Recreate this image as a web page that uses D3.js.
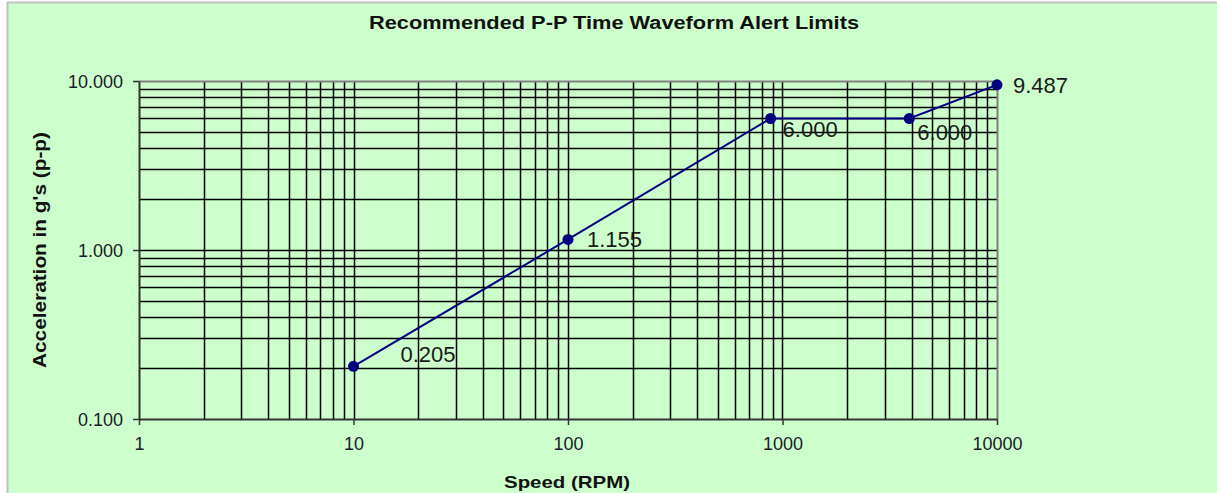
<!DOCTYPE html>
<html>
<head>
<meta charset="utf-8">
<script src="https://cdn.jsdelivr.net/npm/d3@7/dist/d3.min.js"></script>
<style>
  body { margin: 0; background: #fff; }
  svg { display: block; font-family: "Liberation Sans", Arial, sans-serif; }
</style>
</head>
<body>
<div id="chart"></div>
<script>
// chart data
const speeds = [10, 100, 880, 3900, 10000];
const accel = [0.205, 1.155, 6.0, 6.0, 9.487];
const xTicks = [1, 10, 100, 1000, 10000];
const yTicks = [0.1, 1, 10];

// label offsets (style only) for each data label, in px
const labelDx = [47, 19, 12, 8, 16];
const labelDy = [-12, 0, 11, 14, 0];

const W = 1217, H = 493;
const margin = {top: 81, left: 139, right: 220, bottom: 74};
const width = W - margin.left - margin.right,   // 858
      height = H - margin.top - margin.bottom;  // 338

const svg = d3.select('#chart').append('svg')
    .attr('width', W)
    .attr('height', H);

// chart area background + frame
svg.append('rect')
    .attr('x', 7.5).attr('y', 2.5)
    .attr('width', W).attr('height', H)
    .attr('fill', '#ccffcc')
    .attr('stroke', '#c0c0c0')
    .attr('stroke-width', 2);

const g = svg.append('g')
    .attr('transform', 'translate(' + margin.left + ',' + margin.top + ')');

const x = d3.scaleLog().domain([1, 10000]).range([0, width]);
const y = d3.scaleLog().domain([0.1, 10]).range([height, 0]);

// minor grid values: 1..9 in every decade
const xGrid = [];
for (let d = 1; d < 10000; d *= 10) for (let k = 1; k <= 9; k++) xGrid.push(d * k);
const yGrid = [];
for (let d = 0.1; d < 9.9; d *= 10) for (let k = 1; k <= 9; k++) yGrid.push(d * k);

g.selectAll('.vgrid').data(xGrid.filter(v => v > 1))
  .enter().append('line')
    .attr('x1', d => Math.round(x(d)) + 0.5).attr('x2', d => Math.round(x(d)) + 0.5)
    .attr('y1', 0).attr('y2', height)
    .attr('stroke', '#000').attr('stroke-width', 1.5);

g.selectAll('.hgrid').data(yGrid.filter(v => v > 0.1001))
  .enter().append('line')
    .attr('y1', d => Math.round(y(d)) + 0.5).attr('y2', d => Math.round(y(d)) + 0.5)
    .attr('x1', 0).attr('x2', width)
    .attr('stroke', '#000').attr('stroke-width', 1.5);

// plot border (top / right)
g.append('path')
    .attr('d', 'M0,0.5H' + (width + 0.5) + 'V' + height)
    .attr('fill', 'none')
    .attr('stroke', '#808080')
    .attr('stroke-width', 2);

// axes
const xAxis = g.append('g')
    .attr('transform', 'translate(0,' + height + ')')
    .call(d3.axisBottom(x).tickValues(xTicks).tickFormat(d3.format('d')).tickSize(6).tickSizeOuter(0));
const yAxis = g.append('g')
    .call(d3.axisLeft(y).tickValues(yTicks).tickFormat(d3.format('.3f')).tickSize(6).tickSizeOuter(0));

[xAxis, yAxis].forEach(a => {
  a.select('.domain').attr('stroke', '#333').attr('stroke-width', 2);
  a.selectAll('.tick line').attr('stroke', '#333').attr('stroke-width', 1.5);
  a.selectAll('text').attr('fill', '#1a1a2a').style('font-size', '18px');
});
xAxis.selectAll('text').attr('dy', '0.35em').attr('y', 25);
yAxis.selectAll('text').attr('x', -16).attr('dy', '0.35em');

// series line
const line = d3.line()
    .x((d, i) => x(speeds[i]))
    .y(d => y(d));

g.append('path')
    .datum(accel)
    .attr('fill', 'none')
    .attr('stroke', '#000080')
    .attr('stroke-width', 2)
    .attr('d', line);

g.selectAll('.pt').data(accel)
  .enter().append('circle')
    .attr('cx', (d, i) => x(speeds[i]))
    .attr('cy', d => y(d))
    .attr('r', 5.5)
    .attr('fill', '#000080');

// data labels
g.selectAll('.lbl').data(accel)
  .enter().append('text')
    .attr('x', (d, i) => x(speeds[i]) + labelDx[i])
    .attr('y', (d, i) => y(d) + labelDy[i])
    .attr('dy', '0.35em')
    .style('font-size', '22px')
    .attr('fill', '#1a1a1a')
    .text(d => d.toFixed(3));

// titles
svg.append('text')
    .attr('x', 614).attr('y', 29)
    .attr('text-anchor', 'middle')
    .attr('textLength', 490).attr('lengthAdjust', 'spacingAndGlyphs')
    .style('font-size', '18px').style('font-weight', 'bold')
    .attr('fill', '#111')
    .text('Recommended P-P Time Waveform Alert Limits');

svg.append('text')
    .attr('transform', 'translate(46,' + 250 + ') rotate(-90)')
    .attr('text-anchor', 'middle')
    .attr('textLength', 236).attr('lengthAdjust', 'spacingAndGlyphs')
    .style('font-size', '18px').style('font-weight', 'bold')
    .attr('fill', '#111')
    .text("Acceleration in g's (p-p)");

svg.append('text')
    .attr('x', 567).attr('y', 488)
    .attr('text-anchor', 'middle')
    .attr('textLength', 126).attr('lengthAdjust', 'spacingAndGlyphs')
    .style('font-size', '17px').style('font-weight', 'bold')
    .attr('fill', '#111')
    .text('Speed (RPM)');
</script>
</body>
</html>
